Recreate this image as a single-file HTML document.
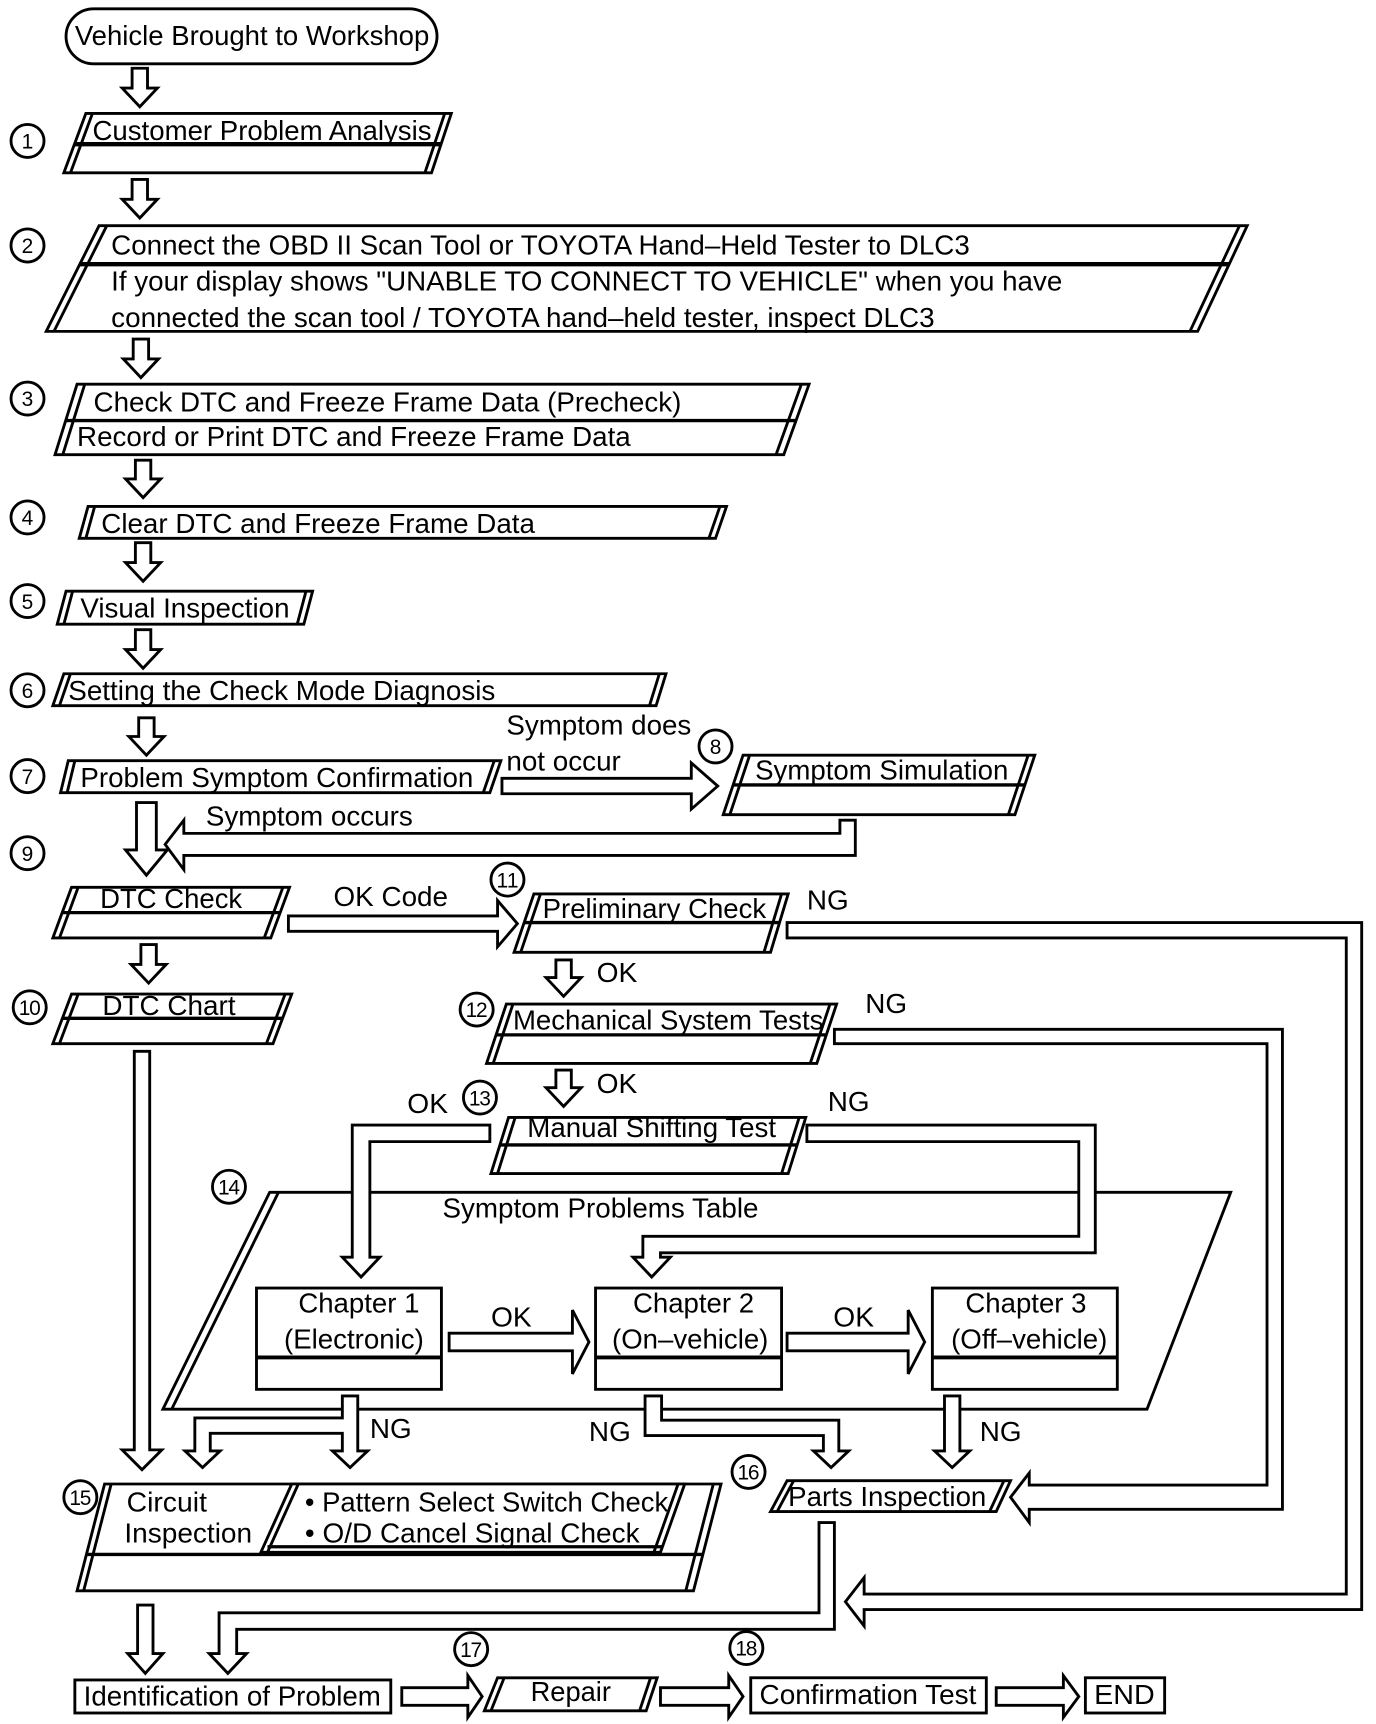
<!DOCTYPE html>
<html><head><meta charset="utf-8"><style>
html,body{margin:0;padding:0;background:#fff;}
svg{display:block;}
text{font-family:"Liberation Sans",sans-serif;font-size:25px;fill:#000;}
.c{font-size:19px;}
</style></head><body>
<svg width="1376" height="1724" viewBox="0 0 1250 1566" preserveAspectRatio="none" xmlns="http://www.w3.org/2000/svg">
<g fill="#fff" stroke="#000" stroke-width="2.6" stroke-linejoin="miter">
<!-- big table parallelogram (drawn first) -->
<polygon points="245,1083 1118,1083 1042,1280 148,1280"/>
<line x1="253" y1="1083" x2="156" y2="1280"/>
<!-- oval -->
<rect x="60" y="8" width="337" height="50" rx="25" ry="25"/>
<!-- down arrows -->
<polygon points="120,62 134,62 134,80 143,80 127,97 111,80 120,80"/>
<polygon points="120,163 134,163 134,181 143,181 127,198 111,181 120,181"/>
<polygon points="121,308 135,308 135,326 144,326 128,343 112,326 121,326"/>
<polygon points="123,418 137,418 137,435 146,435 130,452 114,435 123,435"/>
<polygon points="123,493 137,493 137,511 146,511 130,528 114,511 123,511"/>
<polygon points="123,572 137,572 137,590 146,590 130,607 114,590 123,590"/>
<polygon points="126,652 140,652 140,669 149,669 133,686 117,669 126,669"/>
<polygon points="124,729 142,729 142,772 152,772 133,795 114,772 124,772"/>
<polygon points="128,858 142,858 142,876 151,876 135,893 119,876 128,876"/>
<polygon points="505,872 519,872 519,888 528,888 512,905 496,888 505,888"/>
<polygon points="505,972 519,972 519,988 528,988 512,1005 496,988 505,988"/>
<polygon points="122,955 136,955 136,1317 147,1317 129,1335 111,1317 122,1317"/>
<polygon points="125,1458 139,1458 139,1502 148,1502 132,1520 116,1502 125,1502"/>
<!-- right arrows -->
<polygon points="456,707 628,707 628,693 652,714 628,735 628,721 456,721"/>
<polygon points="262,832 452,832 452,818 470,839 452,860 452,846 262,846"/>
<polygon points="408,1211 520,1211 520,1190 535,1219 520,1248 520,1227 408,1227"/>
<polygon points="715,1211 825,1211 825,1190 840,1219 825,1248 825,1227 715,1227"/>
<polygon points="365,1533 425,1533 425,1522 438,1541 425,1560 425,1549 365,1549"/>
<polygon points="600,1533 662,1533 662,1522 675,1541 662,1560 662,1549 600,1549"/>
<polygon points="905,1533 966,1533 966,1522 980,1541 966,1560 966,1549 905,1549"/>
<!-- routed arrows -->
<polygon points="763,745 777,745 777,777 167,777 167,790 150,767 167,745 167,757 763,757"/>
<polygon points="715,838 1237,838 1237,1462 785,1462 785,1477 768,1455 785,1433 785,1448 1223,1448 1223,852 715,852"/>
<polygon points="758,935 1165,935 1165,1371 935,1371 935,1383 918,1360 935,1338 935,1349 1151,1349 1151,948 758,948"/>
<polygon points="445,1022 320,1022 320,1142 311,1142 328,1160 345,1142 336,1142 336,1037 445,1037"/>
<polygon points="733,1022 995,1022 995,1138 600,1138 600,1142 609,1142 592,1160 575,1142 584,1142 584,1123 980,1123 980,1037 733,1037"/>
<polygon points="311,1268 325,1268 325,1318 334,1318 318,1333 302,1318 311,1318 311,1302 191,1302 191,1318 200,1318 184,1333 168,1318 177,1318 177,1288 311,1288"/>
<polygon points="586,1268 601,1268 601,1290 762,1290 762,1318 771,1318 755,1333 739,1318 748,1318 748,1304 586,1304"/>
<polygon points="858,1268 872,1268 872,1318 881,1318 865,1333 849,1318 858,1318"/>
<polygon points="744,1383 758,1383 758,1480 215,1480 215,1502 224,1502 207,1520 190,1502 199,1502 199,1465 744,1465"/>
<!-- chapter boxes -->
<rect x="233" y="1170" width="168" height="92"/><line x1="233" y1="1233" x2="401" y2="1233" stroke-width="3.5"/>
<rect x="541" y="1170" width="169" height="92"/><line x1="541" y1="1233" x2="710" y2="1233" stroke-width="3.5"/>
<rect x="847" y="1170" width="168" height="92"/><line x1="847" y1="1233" x2="1015" y2="1233" stroke-width="3.5"/>
<!-- parallelograms -->
<polygon points="78,103 410,103 392,157 58,157"/><line x1="84" y1="103" x2="64" y2="157"/><line x1="404" y1="103" x2="386" y2="157"/><line x1="68" y1="131" x2="401" y2="131" stroke-width="4"/>
<polygon points="90,205 1133,205 1088,301 42,301"/><line x1="97" y1="205" x2="49" y2="301"/><line x1="1126" y1="205" x2="1081" y2="301"/><line x1="72" y1="240" x2="1117" y2="240" stroke-width="4"/>
<polygon points="70,349 735,349 712,413 50,413"/><line x1="77" y1="349" x2="57" y2="413"/><line x1="728" y1="349" x2="705" y2="413"/><line x1="60" y1="382" x2="723" y2="382" stroke-width="3"/>
<polygon points="80,460 660,460 650,489 72,489"/><line x1="86" y1="460" x2="78" y2="489"/><line x1="654" y1="460" x2="644" y2="489"/>
<polygon points="60,537 284,537 276,567 52,567"/><line x1="66" y1="537" x2="58" y2="567"/><line x1="278" y1="537" x2="270" y2="567"/>
<polygon points="58,612 605,612 596,641 48,641"/><line x1="64" y1="612" x2="54" y2="641"/><line x1="599" y1="612" x2="590" y2="641"/>
<polygon points="62,691 455,691 445,720 55,720"/><line x1="68" y1="691" x2="61" y2="720"/><line x1="449" y1="691" x2="439" y2="720"/>
<polygon points="675,686 940,686 922,740 657,740"/><line x1="681" y1="686" x2="663" y2="740"/><line x1="934" y1="686" x2="916" y2="740"/><line x1="666" y1="713" x2="931" y2="713" stroke-width="3"/>
<polygon points="65,806 263,806 246,852 48,852"/><line x1="71" y1="806" x2="54" y2="852"/><line x1="257" y1="806" x2="240" y2="852"/><line x1="57" y1="829" x2="255" y2="829" stroke-width="3"/>
<polygon points="485,812 716,812 700,865 467,865"/><line x1="491" y1="812" x2="473" y2="865"/><line x1="710" y1="812" x2="694" y2="865"/><line x1="476" y1="838" x2="708" y2="838" stroke-width="3"/>
<polygon points="65,903 265,903 248,948 48,948"/><line x1="71" y1="903" x2="54" y2="948"/><line x1="259" y1="903" x2="242" y2="948"/><line x1="57" y1="925" x2="257" y2="925" stroke-width="3"/>
<polygon points="460,912 760,912 742,966 442,966"/><line x1="466" y1="912" x2="448" y2="966"/><line x1="754" y1="912" x2="736" y2="966"/><line x1="451" y1="940" x2="751" y2="940" stroke-width="3"/>
<polygon points="462,1015 732,1015 716,1066 446,1066"/><line x1="468" y1="1015" x2="452" y2="1066"/><line x1="726" y1="1015" x2="710" y2="1066"/><line x1="454" y1="1040" x2="724" y2="1040" stroke-width="3"/>
<polygon points="95,1348 655,1348 630,1445 70,1445"/><line x1="101" y1="1348" x2="76" y2="1445"/><line x1="648" y1="1348" x2="623" y2="1445"/><line x1="78" y1="1412" x2="638" y2="1412" stroke-width="3"/>
<polygon points="265,1348 622,1348 600,1410 237,1410"/><line x1="271" y1="1348" x2="243" y2="1410"/><line x1="616" y1="1348" x2="594" y2="1410"/><line x1="243" y1="1405" x2="602" y2="1405" stroke-width="3"/>
<polygon points="715,1345 918,1345 905,1373 700,1373"/><line x1="721" y1="1345" x2="706" y2="1373"/><line x1="912" y1="1345" x2="899" y2="1373"/>
<rect x="68" y="1526" width="287" height="30"/>
<polygon points="452,1524 597,1524 587,1554 440,1554"/><line x1="458" y1="1524" x2="446" y2="1554"/><line x1="591" y1="1524" x2="581" y2="1554"/>
<rect x="682" y="1524" width="214" height="32"/>
<rect x="986" y="1524" width="72" height="32"/>
<!-- circles -->
<circle cx="25" cy="128" r="15"/><circle cx="25" cy="223" r="15"/><circle cx="25" cy="362" r="15"/>
<circle cx="25" cy="470" r="15"/><circle cx="25" cy="546" r="15"/><circle cx="25" cy="627" r="15"/>
<circle cx="25" cy="705" r="15"/><circle cx="650" cy="678" r="15"/><circle cx="25" cy="775" r="15"/>
<circle cx="27" cy="915" r="15"/><circle cx="461" cy="799" r="15"/><circle cx="433" cy="917" r="15"/>
<circle cx="436" cy="997" r="15"/><circle cx="208" cy="1078" r="15"/><circle cx="73" cy="1360" r="15"/>
<circle cx="680" cy="1337" r="15"/><circle cx="428" cy="1498" r="15"/><circle cx="678" cy="1497" r="15"/>
</g>
<g class="c" text-anchor="middle">
<text class="c" x="25" y="135">1</text><text class="c" x="25" y="230">2</text><text class="c" x="25" y="369">3</text>
<text class="c" x="25" y="477">4</text><text class="c" x="25" y="553">5</text><text class="c" x="25" y="634">6</text>
<text class="c" x="25" y="712">7</text><text class="c" x="650" y="685">8</text><text class="c" x="25" y="782">9</text>
<text class="c" x="27" y="922" textLength="20">10</text><text class="c" x="461" y="806" textLength="20">11</text><text class="c" x="433" y="924" textLength="20">12</text>
<text class="c" x="436" y="1004" textLength="20">13</text><text class="c" x="208" y="1085" textLength="20">14</text><text class="c" x="73" y="1367" textLength="20">15</text>
<text class="c" x="680" y="1344" textLength="20">16</text><text class="c" x="428" y="1505" textLength="20">17</text><text class="c" x="678" y="1504" textLength="20">18</text>
</g>
<g lengthAdjust="spacingAndGlyphs">
<text lengthAdjust="spacingAndGlyphs" x="68" y="41" textLength="322">Vehicle Brought to Workshop</text>
<text lengthAdjust="spacingAndGlyphs" x="84" y="127" textLength="308">Customer Problem Analysis</text>
<text lengthAdjust="spacingAndGlyphs" x="101" y="231" textLength="780">Connect the OBD II Scan Tool or TOYOTA Hand–Held Tester to DLC3</text>
<text lengthAdjust="spacingAndGlyphs" x="101" y="264" textLength="864">If your display shows "UNABLE TO CONNECT TO VEHICLE" when you have</text>
<text lengthAdjust="spacingAndGlyphs" x="101" y="297" textLength="748">connected the scan tool / TOYOTA hand–held tester, inspect DLC3</text>
<text lengthAdjust="spacingAndGlyphs" x="85" y="374" textLength="534">Check DTC and Freeze Frame Data (Precheck)</text>
<text lengthAdjust="spacingAndGlyphs" x="70" y="405" textLength="503">Record or Print DTC and Freeze Frame Data</text>
<text lengthAdjust="spacingAndGlyphs" x="92" y="484" textLength="394">Clear DTC and Freeze Frame Data</text>
<text lengthAdjust="spacingAndGlyphs" x="73" y="561" textLength="190">Visual Inspection</text>
<text lengthAdjust="spacingAndGlyphs" x="62" y="636" textLength="388">Setting the Check Mode Diagnosis</text>
<text lengthAdjust="spacingAndGlyphs" x="73" y="715" textLength="357">Problem Symptom Confirmation</text>
<text lengthAdjust="spacingAndGlyphs" x="460" y="667" textLength="168">Symptom does</text>
<text lengthAdjust="spacingAndGlyphs" x="460" y="700" textLength="104">not occur</text>
<text lengthAdjust="spacingAndGlyphs" x="686" y="708" textLength="230">Symptom Simulation</text>
<text lengthAdjust="spacingAndGlyphs" x="187" y="750" textLength="188">Symptom occurs</text>
<text lengthAdjust="spacingAndGlyphs" x="91" y="825" textLength="129">DTC Check</text>
<text lengthAdjust="spacingAndGlyphs" x="303" y="823" textLength="104">OK Code</text>
<text lengthAdjust="spacingAndGlyphs" x="493" y="834" textLength="203">Preliminary Check</text>
<text lengthAdjust="spacingAndGlyphs" x="733" y="826" textLength="38">NG</text>
<text lengthAdjust="spacingAndGlyphs" x="542" y="892" textLength="37">OK</text>
<text lengthAdjust="spacingAndGlyphs" x="93" y="922" textLength="121">DTC Chart</text>
<text lengthAdjust="spacingAndGlyphs" x="466" y="935" textLength="282">Mechanical System Tests</text>
<text lengthAdjust="spacingAndGlyphs" x="786" y="920" textLength="38">NG</text>
<text lengthAdjust="spacingAndGlyphs" x="542" y="993" textLength="37">OK</text>
<text lengthAdjust="spacingAndGlyphs" x="370" y="1011" textLength="37">OK</text>
<text lengthAdjust="spacingAndGlyphs" x="479" y="1033" textLength="226">Manual Shifting Test</text>
<text lengthAdjust="spacingAndGlyphs" x="752" y="1009" textLength="38">NG</text>
<text lengthAdjust="spacingAndGlyphs" x="402" y="1106" textLength="287">Symptom Problems Table</text>
<text lengthAdjust="spacingAndGlyphs" x="271" y="1192" textLength="110">Chapter 1</text>
<text lengthAdjust="spacingAndGlyphs" x="258" y="1225" textLength="127">(Electronic)</text>
<text lengthAdjust="spacingAndGlyphs" x="575" y="1192" textLength="110">Chapter 2</text>
<text lengthAdjust="spacingAndGlyphs" x="556" y="1225" textLength="142">(On–vehicle)</text>
<text lengthAdjust="spacingAndGlyphs" x="877" y="1192" textLength="110">Chapter 3</text>
<text lengthAdjust="spacingAndGlyphs" x="864" y="1225" textLength="142">(Off–vehicle)</text>
<text lengthAdjust="spacingAndGlyphs" x="446" y="1205" textLength="37">OK</text>
<text lengthAdjust="spacingAndGlyphs" x="757" y="1205" textLength="37">OK</text>
<text lengthAdjust="spacingAndGlyphs" x="336" y="1306" textLength="38">NG</text>
<text lengthAdjust="spacingAndGlyphs" x="535" y="1309" textLength="38">NG</text>
<text lengthAdjust="spacingAndGlyphs" x="890" y="1309" textLength="38">NG</text>
<text lengthAdjust="spacingAndGlyphs" x="115" y="1373" textLength="73">Circuit</text>
<text lengthAdjust="spacingAndGlyphs" x="113" y="1401" textLength="116">Inspection</text>
<text lengthAdjust="spacingAndGlyphs" x="277" y="1373" textLength="330">• Pattern Select Switch Check</text>
<text lengthAdjust="spacingAndGlyphs" x="277" y="1401" textLength="304">• O/D Cancel Signal Check</text>
<text lengthAdjust="spacingAndGlyphs" x="716" y="1368" textLength="180">Parts Inspection</text>
<text lengthAdjust="spacingAndGlyphs" x="76" y="1549" textLength="270">Identification of Problem</text>
<text lengthAdjust="spacingAndGlyphs" x="482" y="1545" textLength="73">Repair</text>
<text lengthAdjust="spacingAndGlyphs" x="690" y="1548" textLength="197">Confirmation Test</text>
<text lengthAdjust="spacingAndGlyphs" x="994" y="1548" textLength="55">END</text>
</g>
</svg>
</body></html>
